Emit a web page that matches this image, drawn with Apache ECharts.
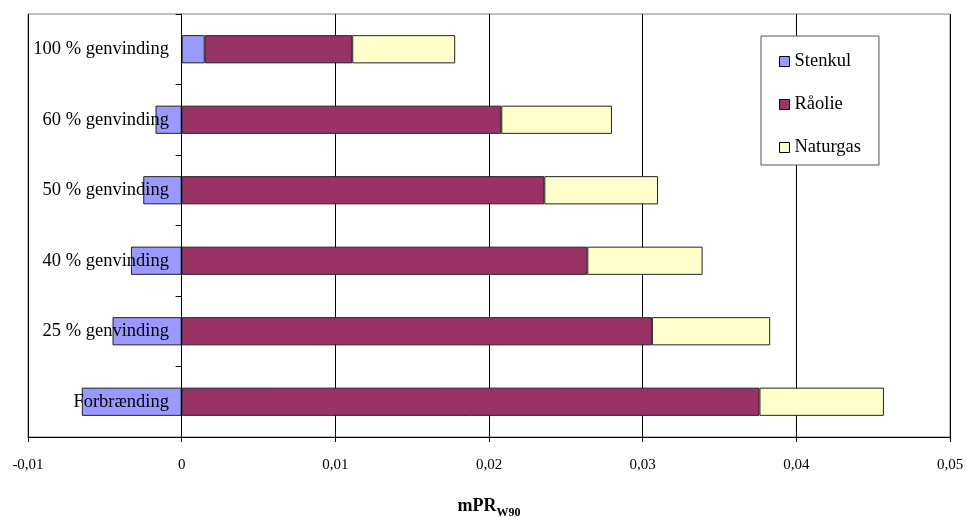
<!DOCTYPE html>
<html>
<head>
<meta charset="utf-8">
<script src="https://cdn.jsdelivr.net/npm/echarts@6/dist/echarts.min.js"></script>
<style>
  html, body { margin: 0; padding: 0; background: #fff; }
  #chart { width: 967px; height: 517px; }
</style>
</head>
<body>
<div id="chart"></div>
<script>
// Scenarios, bottom to top along the category axis
const categories = ['Forbrænding', '25 % genvinding', '40 % genvinding', '50 % genvinding', '60 % genvinding', '100 % genvinding'];

// Contributions per energy source (mPR_W90)
const stenkul  = [-0.0065, -0.0045, -0.0033, -0.0025, -0.0017, 0.0015];
const raaolie  = [0.0376, 0.0306, 0.0264, 0.0236, 0.0208, 0.0096];
const naturgas = [0.0081, 0.0077, 0.0075, 0.0074, 0.0072, 0.0067];

// Value axis range
const axisMin = -0.01;
const axisMax = 0.05;
const axisStep = 0.01;

const serif = '"Liberation Serif", "Times New Roman", serif';
const chart = echarts.init(document.getElementById('chart'), null, { renderer: 'canvas' });

function barSeries(name, data, color) {
  return {
    name: name,
    type: 'bar',
    stack: 'total',
    data: data,
    barWidth: '40%',
    itemStyle: { color: color, borderColor: '#222', borderWidth: 1 }
  };
}

chart.setOption({
  animation: false,
  backgroundColor: '#fff',
  grid: {
    left: 28, right: 17, top: 14, bottom: 80,
    containLabel: false,
    outerBoundsMode: 'none',
    show: true, borderColor: '#808080', borderWidth: 1, backgroundColor: 'transparent'
  },
  legend: {
    orient: 'vertical',
    left: 761, top: 36,
    padding: [16, 18, 8, 18],
    itemGap: 24,
    itemWidth: 10, itemHeight: 10,
    icon: 'rect',
    backgroundColor: '#fff',
    borderColor: '#555', borderWidth: 1,
    textStyle: { fontFamily: serif, fontSize: 18.5, color: '#000', lineHeight: 19 },
    itemStyle: { borderColor: '#000', borderWidth: 1 },
    data: ['Stenkul', 'Råolie', 'Naturgas']
  },
  xAxis: {
    type: 'value',
    min: axisMin, max: axisMax, interval: axisStep,
    axisLine: { show: true, onZero: false, lineStyle: { color: '#000', width: 1 } },
    axisTick: { show: true, length: 5, lineStyle: { color: '#000' } },
    splitLine: { show: true, lineStyle: { color: '#000', width: 1 } },
    axisLabel: {
      margin: 21,
      fontFamily: serif, fontSize: 15, color: '#000',
      formatter: v => (Math.round(v * 100) / 100).toString().replace('.', ',')
    },
    name: '{m|mPR}{s|W90}',
    nameLocation: 'middle',
    nameGap: 56,
    nameTextStyle: {
      rich: {
        m: { fontFamily: serif, fontSize: 18, fontWeight: 'bold', color: '#000', lineHeight: 22, verticalAlign: 'bottom' },
        s: { fontFamily: serif, fontSize: 12, fontWeight: 'bold', color: '#000', lineHeight: 22, verticalAlign: 'bottom', padding: [0, 0, -4, 0] }
      }
    }
  },
  yAxis: {
    type: 'category',
    data: categories,
    z: 5,
    axisLine: { show: true, onZero: true, lineStyle: { color: '#000', width: 1 } },
    axisTick: { show: true, length: 6, alignWithLabel: false, lineStyle: { color: '#000' } },
    // labels sit just left of the zero line
    axisLabel: { margin: -141, fontFamily: serif, fontSize: 18.5, color: '#000' },
    splitLine: { show: false }
  },
  series: [
    barSeries('Stenkul', stenkul, '#9999FF'),
    barSeries('Råolie', raaolie, '#993366'),
    barSeries('Naturgas', naturgas, '#FFFFCC')
  ]
});
</script>
</body>
</html>
